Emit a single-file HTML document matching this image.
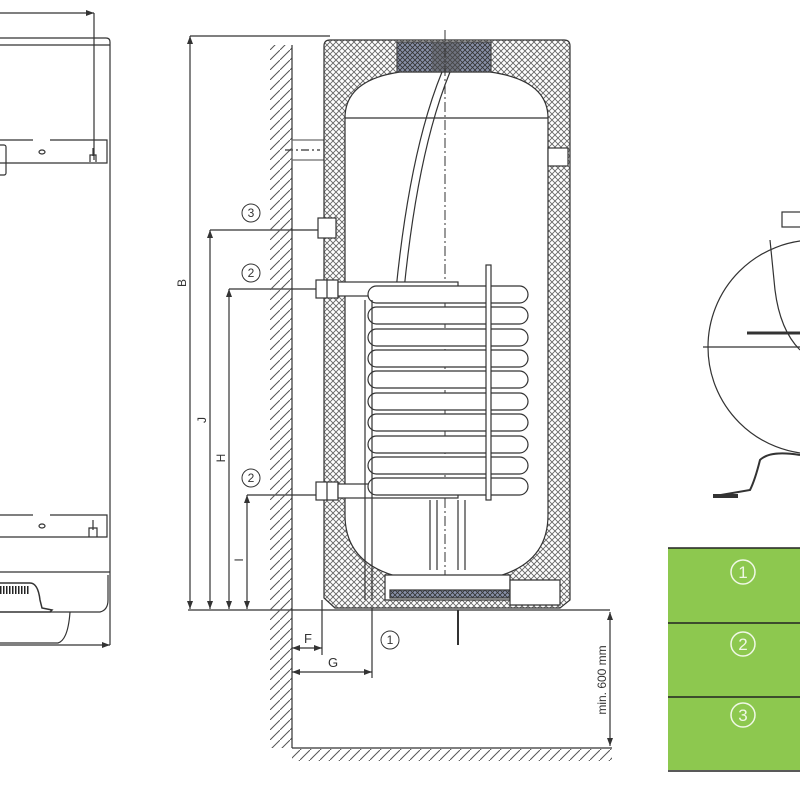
<!DOCTYPE html>
<html><head><meta charset="utf-8"><style>
html,body{margin:0;padding:0;background:#fff;width:800px;height:800px;overflow:hidden}
svg{display:block}
text{font-family:"Liberation Sans",sans-serif;fill:#333}
</style></head><body>
<svg width="800" height="800" viewBox="0 0 800 800" xmlns="http://www.w3.org/2000/svg">
<defs>
<pattern id="x" width="6" height="6" patternUnits="userSpaceOnUse">
<rect width="6" height="6" fill="#fff"/>
<path d="M0 0L6 6M6 0L0 6" stroke="#666" stroke-width="0.9"/>
</pattern>
<pattern id="xd" width="5" height="5" patternUnits="userSpaceOnUse">
<rect width="5" height="5" fill="#8890a8"/>
<path d="M0 0L5 5M5 0L0 5" stroke="#333" stroke-width="0.8"/>
</pattern>
<pattern id="h" width="10" height="10" patternUnits="userSpaceOnUse">
<path d="M-2 12L12 -2" stroke="#555" stroke-width="1"/>
</pattern>
</defs>
<g fill="none" stroke="#333" stroke-width="1.2">
<line x1="0" y1="13" x2="94" y2="13"/><line x1="94" y1="13" x2="94" y2="160"/>
<path d="M0 38H106Q110 38 110 42V645"/><line x1="0" y1="45" x2="110" y2="45"/>
<path d="M0 140H33M50 140H107V163H0"/>
<ellipse cx="42" cy="152" rx="3" ry="2"/><path d="M90 162V155H96V162M93 148V156"/>
<rect x="-4" y="145" width="10" height="30" rx="2"/>
<path d="M0 515H33M50 515H107V537H0"/>
<ellipse cx="42" cy="526" rx="3" ry="2"/><path d="M89 537V528H97V537M93 520V530"/>
<line x1="0" y1="572" x2="110" y2="572"/>
<path d="M0 583H30Q38 583 40 600L42 608L52 610L50 612H0" stroke-width="1.5"/>
<path d="M0 590H30" stroke="#222" stroke-width="8" stroke-dasharray="1.5 1.5"/>
<path d="M50 612H100Q108 610 108 600V575"/>
<path d="M70 612Q68 640 58 643H0"/>
<line x1="0" y1="645" x2="110" y2="645"/>
<line x1="190" y1="36" x2="330" y2="36"/>
<line x1="190" y1="36" x2="190" y2="609"/>
<line x1="210" y1="230" x2="345" y2="230"/><line x1="210" y1="230" x2="210" y2="609"/>
<line x1="229" y1="289" x2="330" y2="289"/><line x1="229" y1="289" x2="229" y2="609"/>
<line x1="247" y1="495" x2="330" y2="495"/><line x1="247" y1="495" x2="247" y2="609"/>
<line x1="188" y1="610" x2="610" y2="610"/>
<rect x="270" y="45" width="22" height="703" fill="url(#h)" stroke="none"/>
<line x1="292" y1="45" x2="292" y2="748"/>
<line x1="292" y1="748" x2="612" y2="748"/>
<rect x="292" y="749" width="320" height="12" fill="url(#h)" stroke="none"/>
<line x1="610" y1="612" x2="610" y2="746"/>
<line x1="322" y1="600" x2="322" y2="655"/><line x1="372" y1="600" x2="372" y2="678"/>
<line x1="292" y1="648" x2="322" y2="648"/><line x1="292" y1="672" x2="372" y2="672"/>
<line x1="285" y1="150" x2="320" y2="150" stroke-dasharray="8 3 2 3"/>
<rect x="292" y="140" width="32" height="20" stroke="#666"/>
<path d="M330 40H564Q570 40 570 46V600L560 608H335L324 598V46Q324 40 330 40Z" fill="url(#x)"/>
<path d="M345 118Q345 80 400 72H490Q548 80 548 118V515Q548 570 480 580H415Q345 570 345 515Z" fill="#fff"/>
<line x1="345" y1="118" x2="548" y2="118"/>
<rect x="397" y="42" width="94" height="30" fill="url(#xd)" stroke="#444"/>
<rect x="432" y="42" width="28" height="30" fill="#555" opacity="0.5" stroke="none"/>
<rect x="548" y="148" width="20" height="18" fill="#fff"/>
<line x1="445" y1="30" x2="445" y2="600" stroke-dasharray="10 3 2 3" stroke-width="1"/>
<path d="M442 72Q410 150 396 290M450 72Q418 150 404 290"/>
<rect x="318" y="218" width="18" height="20" fill="#fff"/>
<rect x="316" y="280" width="22" height="18" fill="#fff"/><line x1="327" y1="280" x2="327" y2="298"/>
<rect x="338" y="282" width="120" height="14" fill="#fff"/>
<rect x="316" y="482" width="22" height="18" fill="#fff"/><line x1="327" y1="482" x2="327" y2="500"/>
<rect x="338" y="484" width="120" height="14" fill="#fff"/>
<g fill="#fff">
<rect x="368" y="286" width="160" height="17" rx="8.5"/>
<rect x="368" y="307" width="160" height="17" rx="8.5"/>
<rect x="368" y="329" width="160" height="17" rx="8.5"/>
<rect x="368" y="350" width="160" height="17" rx="8.5"/>
<rect x="368" y="371" width="160" height="17" rx="8.5"/>
<rect x="368" y="393" width="160" height="17" rx="8.5"/>
<rect x="368" y="414" width="160" height="17" rx="8.5"/>
<rect x="368" y="436" width="160" height="17" rx="8.5"/>
<rect x="368" y="457" width="160" height="17" rx="8.5"/>
<rect x="368" y="478" width="160" height="17" rx="8.5"/>
</g>
<rect x="486" y="265" width="5" height="235" fill="#fff"/>
<line x1="365" y1="300" x2="365" y2="600"/><line x1="372" y1="300" x2="372" y2="600"/>
<path d="M430 500V570M437 500V570M458 500V570M465 500V570"/>
<path d="M385 575H510V600H385Z" fill="#fff"/>
<rect x="390" y="590" width="120" height="8" fill="url(#xd)"/>
<path d="M510 580H560V605H510Z" fill="#fff"/>
<line x1="458" y1="610" x2="458" y2="645" stroke-width="2"/>
<circle cx="815" cy="347" r="107"/>
<line x1="703" y1="347" x2="800" y2="347"/>
<path d="M770 240L775 290Q780 330 800 350"/>
<rect x="782" y="212" width="20" height="15"/>
<line x1="747" y1="333" x2="800" y2="333" stroke-width="3"/>
<path d="M800 455Q770 450 760 460Q755 480 750 490L715 496" stroke-width="2"/>
<line x1="713" y1="496" x2="738" y2="496" stroke-width="4"/>
</g>
<g fill="#333">
<path d="M94 13l-8 -3v6z"/><path d="M110 645l-8 -3v6z"/>
<path d="M190 36l-3 8h6z"/><path d="M190 609l-3 -8h6z"/>
<path d="M210 230l-3 8h6z"/><path d="M210 609l-3 -8h6z"/>
<path d="M229 289l-3 8h6z"/><path d="M229 609l-3 -8h6z"/>
<path d="M247 495l-3 8h6z"/><path d="M247 609l-3 -8h6z"/>
<path d="M292 648l8 -3v6z"/><path d="M322 648l-8 -3v6z"/>
<path d="M292 672l8 -3v6z"/><path d="M372 672l-8 -3v6z"/>
<path d="M610 612l-3 8h6z"/><path d="M610 746l-3 -8h6z"/>
</g>
<g font-size="12" text-anchor="middle">
<text transform="translate(186 283) rotate(-90)">B</text>
<text transform="translate(206 420) rotate(-90)">J</text>
<text transform="translate(225 458) rotate(-90)">H</text>
<text transform="translate(243 560) rotate(-90)">I</text>
<text x="308" y="643" font-size="13">F</text>
<text x="333" y="667" font-size="13">G</text>
<text transform="translate(606 680) rotate(-90)" font-size="12">min. 600 mm</text>
</g>
<g fill="none" stroke="#333" stroke-width="1">
<circle cx="251" cy="213" r="9"/><circle cx="251" cy="273" r="9"/>
<circle cx="251" cy="478" r="9"/><circle cx="390" cy="640" r="9"/>
</g>
<g font-size="12" text-anchor="middle">
<text x="251" y="217">3</text><text x="251" y="277">2</text>
<text x="251" y="482">2</text><text x="390" y="644">1</text>
</g>
<rect x="668" y="548" width="132" height="222" fill="#8dc84f"/>
<g stroke="#222" stroke-width="1.5">
<line x1="668" y1="548" x2="800" y2="548"/><line x1="668" y1="623" x2="800" y2="623"/>
<line x1="668" y1="697" x2="800" y2="697"/><line x1="668" y1="771" x2="800" y2="771"/>
</g>
<g fill="none" stroke="#f0f8e6" stroke-width="1.5">
<circle cx="743" cy="572" r="12"/><circle cx="743" cy="644" r="12"/><circle cx="743" cy="715" r="12"/>
</g>
<g font-size="17" text-anchor="middle">
<text x="743" y="578" style="fill:#f0f8e6">1</text>
<text x="743" y="650" style="fill:#f0f8e6">2</text>
<text x="743" y="721" style="fill:#f0f8e6">3</text>
</g>
</svg>
</body></html>
